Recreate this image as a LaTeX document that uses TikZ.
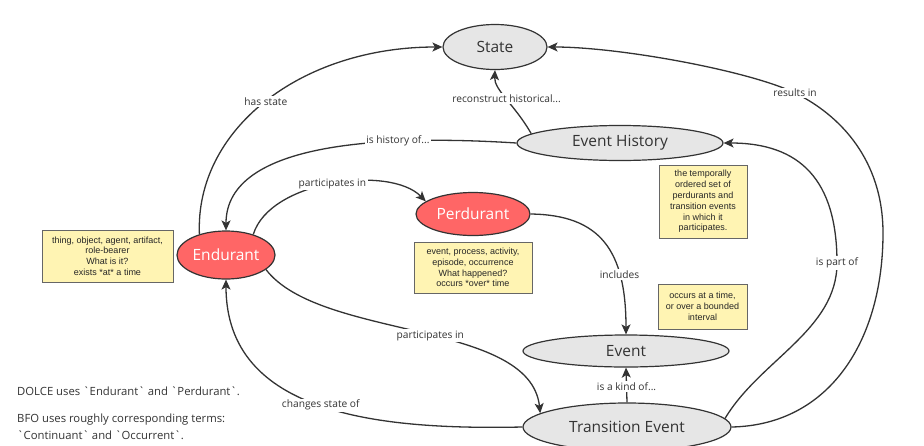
\documentclass[tikz,border=0pt]{standalone}
\usepackage{fontspec}
\setmainfont{Open Sans}
\newfontfamily\notefont{Liberation Sans}
\usetikzlibrary{arrows.meta,shapes.geometric}
\definecolor{ink}{HTML}{333333}
\definecolor{greyfill}{HTML}{E6E6E6}
\definecolor{redfill}{HTML}{FF6666}
\definecolor{notefill}{HTML}{FFF4B3}
\definecolor{noteedge}{HTML}{666666}
\tikzset{
  concept/.style={ellipse, draw=ink, line width=1.2pt, inner sep=0pt,
    font=\fontsize{15.5}{18}\selectfont},
  greyconcept/.style={concept, fill=greyfill, text=ink},
  redconcept/.style={concept, fill=redfill, text=white},
  note/.style={rectangle, draw=noteedge, fill=notefill, line width=0.8pt,
    align=center, inner sep=2pt, text=black!85,
    font=\notefont\fontsize{9}{10.8}\selectfont},
  rel/.style={draw=ink, line width=1.3pt,
    -{Stealth[length=10pt,width=9pt,inset=2.5pt]}},
  lbl/.style={fill=white, inner sep=1.5pt, text=ink,
    font=\fontsize{10.2}{12}\selectfont},
  remark/.style={anchor=west, inner sep=0pt, text=ink,
    font=\fontsize{11.3}{13}\selectfont}
}
\begin{document}
\begin{tikzpicture}[x=1pt,y=-1pt]
\clip (0,0) rectangle (924,445);
\fill[white] (0,0) rectangle (924,445);

% concepts
\node[greyconcept, minimum width=104pt, minimum height=45pt] (state) at (495,47) {State};
\node[greyconcept, minimum width=206pt, minimum height=35pt] (eh) at (620,143) {Event History};
\node[redconcept, minimum width=114pt, minimum height=43pt] (perd) at (473,214) {Perdurant};
\node[redconcept, minimum width=98pt, minimum height=48pt] (end) at (226,255) {Endurant};
\node[greyconcept, minimum width=206pt, minimum height=32pt] (event) at (626,351) {Event};
\node[greyconcept, minimum width=208pt, minimum height=48pt] (te) at (627,427) {Transition Event};

% notes
\node[note, minimum width=131pt, minimum height=52pt] (nend) at (107.5,256)
  {thing, object, agent, artifact,\\role-bearer\\What is it?\\exists *at* a time};
\node[note, minimum width=118pt, minimum height=51pt] (nperd) at (473,267.5)
  {event, process, activity,\\episode, occurrence\\What happened?\\occurs *over* time};
\node[note, minimum width=88pt, minimum height=73pt] (neh) at (703,201.5)
  {the temporally\\ordered set of\\perdurants and\\transition events\\in which it\\participates.};
\node[note, minimum width=89pt, minimum height=45pt] (nev) at (702.5,306.5)
  {occurs at a time,\\or over a bounded\\interval};

% relations
\draw[rel] (end.142) .. controls (195,130) and (300,47) .. node[lbl, pos=0.5] {has state} (state.west);
\draw[rel] (eh.174) .. controls (515,105) and (494,90) .. node[lbl, pos=0.5] {reconstruct historical...} (state.south);
\draw[rel] (eh.west) .. controls (390,135) and (226,140) .. node[lbl, pos=0.3] {is history of...} (end.north);
\draw[rel] (end.37) .. controls (270,180) and (390,165) .. node[lbl, pos=0.5] {participates in} (perd.165);
\draw[rel] (perd.east) .. controls (600,215) and (626,250) .. node[lbl, pos=0.72] {includes} (event.north);
\draw[rel] (end.-20) .. controls (320,340) and (530,320) .. node[lbl, pos=0.53] {participates in} (te.171);
\draw[rel] (te.north) -- node[lbl, pos=0.45] {is a kind of...} (event.south);
\draw[rel] (te.west) .. controls (380,430) and (226,415) .. node[lbl, pos=0.5] {changes state of} (end.south);
\draw[rel] (te.5) .. controls (760,360) and (837,330) .. (837,263) node[lbl] {is part of}
  .. controls (837,180) and (800,143) .. (eh.east);
\draw[rel] (te.east) .. controls (830,425) and (883,340) .. (883,233)
  .. controls (883,160) and (840,115) .. (795,93) node[lbl] {results in}
  .. controls (750,71) and (620,47) .. (state.east);

% remarks
\node[remark] (dolce) at (17,391) {DOLCE uses \textasciigrave Endurant\textasciigrave{} and \textasciigrave Perdurant\textasciigrave.};
\node[remark] (bfo1) at (17,420) {BFO uses roughly corresponding terms:};
\node[remark] (bfo2) at (17,435) {\textasciigrave Continuant\textasciigrave{} and \textasciigrave Occurrent\textasciigrave.};
\end{tikzpicture}
\end{document}
